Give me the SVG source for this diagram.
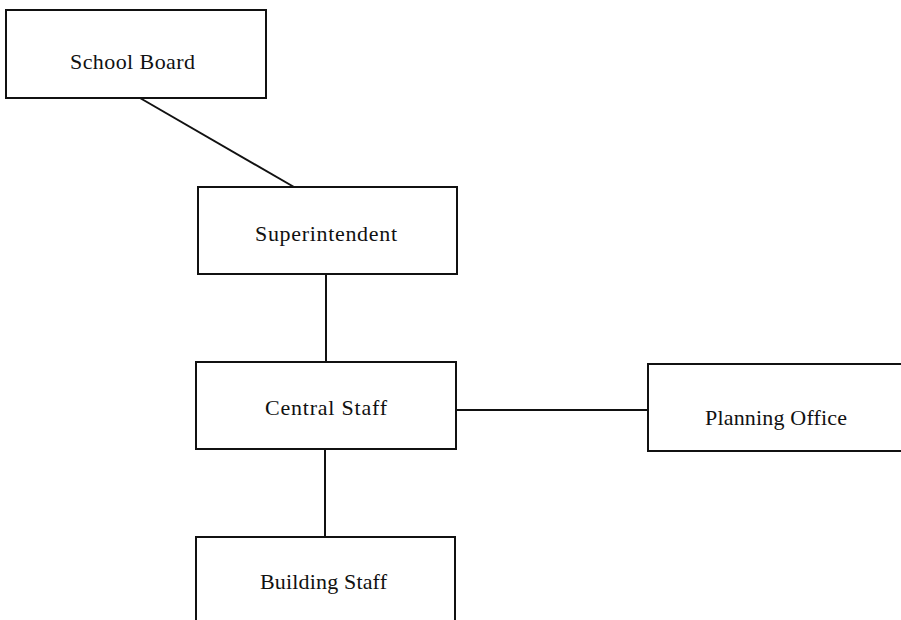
<svg xmlns="http://www.w3.org/2000/svg" width="901" height="620" viewBox="0 0 901 620">
  <style>
    .box { fill: #ffffff; stroke: #111111; stroke-width: 2; }
    .conn { stroke: #111111; stroke-width: 2; fill: none; }
    .label { font-family: "Liberation Serif", "Times New Roman", serif; font-size: 22px; fill: #111111; }
  </style>
  <rect width="901" height="620" fill="#ffffff"/>

  <!-- connectors -->
  <g id="connectors">
    <line class="conn" x1="140" y1="98" x2="294" y2="187"/>
    <line class="conn" x1="326" y1="274" x2="326" y2="362"/>
    <line class="conn" x1="456" y1="410" x2="648" y2="410"/>
    <line class="conn" x1="325" y1="449" x2="325" y2="537"/>
  </g>

  <g id="school-board">
    <rect class="box" x="6" y="10" width="260" height="88"/>
    <text class="label" x="70" y="69" textLength="125" lengthAdjust="spacing">School Board</text>
  </g>

  <g id="superintendent">
    <rect class="box" x="198" y="187" width="259" height="87"/>
    <text class="label" x="255" y="241" textLength="142" lengthAdjust="spacing">Superintendent</text>
  </g>

  <g id="central-staff">
    <rect class="box" x="196" y="362" width="260" height="87"/>
    <text class="label" x="265" y="415" textLength="122" lengthAdjust="spacing">Central Staff</text>
  </g>

  <g id="planning-office">
    <rect class="box" x="648" y="364" width="270" height="87"/>
    <text class="label" x="705" y="425" textLength="142" lengthAdjust="spacing">Planning Office</text>
  </g>

  <g id="building-staff">
    <rect class="box" x="196" y="537" width="259" height="100"/>
    <text class="label" x="260" y="589" textLength="127" lengthAdjust="spacing">Building Staff</text>
  </g>
</svg>
